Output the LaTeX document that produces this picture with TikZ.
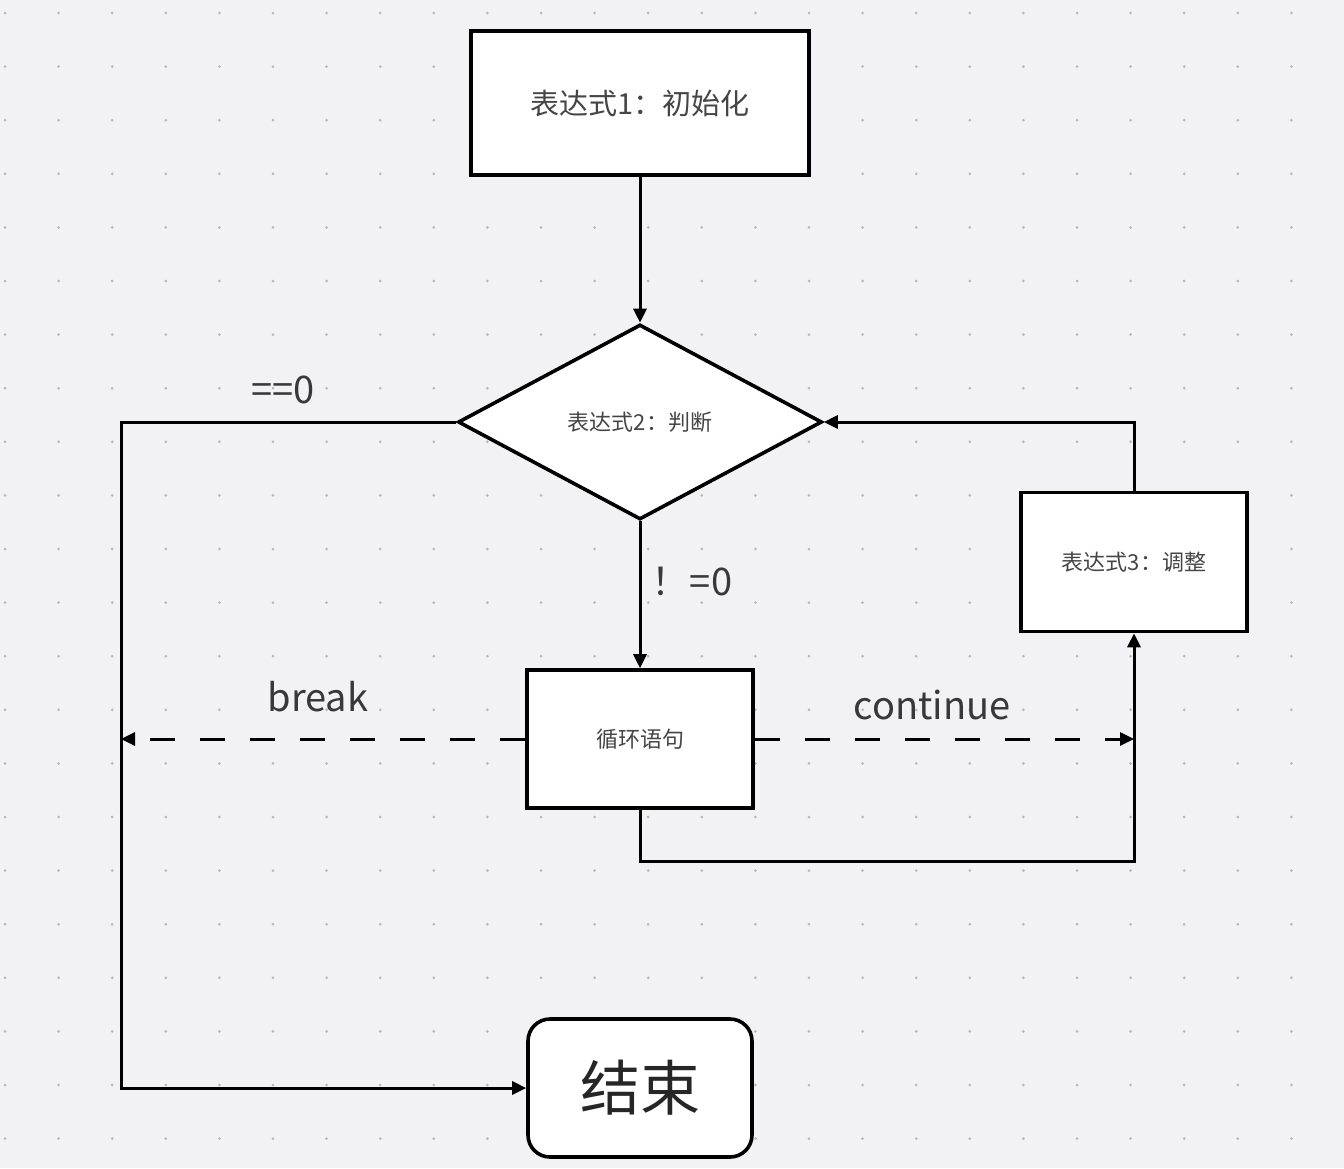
\documentclass[tikz,border=0pt]{standalone}
\usepackage{fontspec}
\setmainfont{Noto Sans CJK SC}
\usetikzlibrary{shapes.geometric,arrows.meta}
\definecolor{bgc}{HTML}{F2F2F4}
\definecolor{dotc}{HTML}{B8B8BC}
\definecolor{txtc}{HTML}{454545}
\tikzset{
  box/.style={draw=black, line width=3.6pt, fill=white, text=txtc, inner sep=0pt},
  conn/.style={draw=black, line width=3pt, -{Triangle[length=14pt,width=13pt]}},
  dconn/.style={conn, dash pattern=on 25pt off 25pt},
  lbl/.style={text=black!78, font=\fontsize{38}{44}\selectfont},
  small/.style={font=\fontsize{22}{26}\selectfont},
}
\begin{document}
\begin{tikzpicture}[x=1pt,y=-1pt]
\fill[bgc] (0,0) rectangle (1344,1168);
\useasboundingbox (0,0) rectangle (1344,1168);
\foreach \i in {0,...,24} \foreach \j in {0,...,21}
  \fill[dotc] ({5+53.6*\i},{13+53.6*\j}) circle (1.5);
\node[box, minimum width=338, minimum height=144, font=\fontsize{29}{34}\selectfont] (init) at (640,103) {表达式1：初始化};
\node[box, diamond, minimum width=364, minimum height=195, small] (cond) at (640,422) {表达式2：判断};
\node[box, minimum width=226, minimum height=138, small] (body) at (640,739) {循环语句};
\node[box, minimum width=226, minimum height=139, small] (adj) at (1134,562) {表达式3：调整};
\node[box, rounded corners=22pt, minimum width=224, minimum height=138, text=black!85, font=\fontsize{60}{70}\selectfont] (end) at (640,1088) {结束};
\coordinate (lcol) at (121,739);
\coordinate (rcol) at (1134,739);
\coordinate (lbot) at (121,1088);
\coordinate (rbot) at (1134,861);
\draw[conn] (init) -- (cond);
\draw[conn] (cond) -- (body);
\draw[conn] (cond.west) -| (lbot) -- (end.west);
\draw[dconn] (body.west) -- (lcol);
\draw[dconn] (body.east) -- (rcol);
\draw[conn] (body.south) |- (rbot) -- (adj.south);
\draw[conn] (adj.north) |- (cond.east);
\node[lbl] (l0) at (283,390) {==0};
\node[lbl] (l1) at (692,582) {！=0};
\node[lbl] (l2) at (318,697) {break};
\node[lbl] (l3) at (932,705) {continue};
\end{tikzpicture}
\end{document}
